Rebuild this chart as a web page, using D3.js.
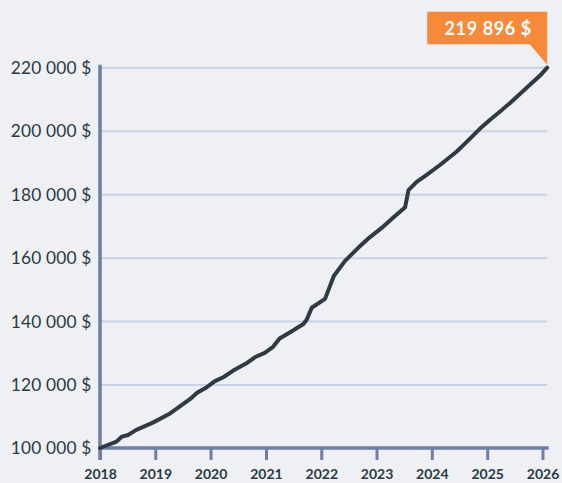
<!DOCTYPE html>
<html>
<head>
<meta charset="utf-8">
<script src="https://cdn.jsdelivr.net/npm/d3@7"></script>
<style>
  html, body { margin: 0; padding: 0; background: #eff0f4; }
  svg { display: block; }
  text { font-family: Lato, "Open Sans", sans-serif; }
</style>
</head>
<body>
<svg id="chart" width="562" height="483"></svg>
<script>
// ---- Data ----
const dates = [
  "2018-01-01","2018-04-20","2018-05-26","2018-07-05","2018-08-29","2018-12-16",
  "2019-04-09","2019-08-18","2019-10-04","2019-12-05",
  "2020-01-30","2020-03-25","2020-05-30","2020-08-25","2020-10-19","2020-12-24",
  "2021-02-17","2021-04-01","2021-06-10","2021-09-05","2021-09-27","2021-10-30",
  "2022-01-26","2022-03-25","2022-06-06","2022-09-02","2022-11-17",
  "2023-02-02","2023-04-20","2023-07-09","2023-07-31","2023-09-23","2023-11-28",
  "2024-02-24","2024-06-12","2024-08-17","2024-11-13",
  "2025-01-18","2025-03-25","2025-05-30","2025-08-03","2025-10-08","2025-12-16",
  "2026-02-01"
];
const values = [
  100000,102000,103600,104100,105700,108000,
  110900,115400,117400,119100,
  121100,122300,124400,126700,128600,130000,
  131900,134500,136500,139100,140400,144200,
  147000,154200,158900,163100,166400,
  169300,172600,175900,181300,183900,186100,
  189200,193400,196400,200600,
  203400,206000,208700,211500,214400,217400,
  219896
];
const yTicks = [100000,120000,140000,160000,180000,200000,220000];
const xTickYears = [2018,2019,2020,2021,2022,2023,2024,2025,2026];
const lastLabel = "219 896 $";

(function () {
const parse = d3.timeParse("%Y-%m-%d");
const data = dates.map((d, i) => ({ date: parse(d), value: values[i] }));

const svg = d3.select("#chart");
const mLeft = 100, mRight = 547.2, mTop = 67.3, mBottom = 448;

const x = d3.scaleTime()
  .domain([parse("2018-01-01"), parse("2026-02-01")])
  .range([mLeft, mRight]);
const y = d3.scaleLinear().domain([100000, 220000]).range([mBottom, mTop]);

const fmt = v => d3.format(",")(v).replace(/,/g, " ") + " $";

// gridlines
svg.append("g")
  .attr("transform", `translate(${mLeft},0)`)
  .call(d3.axisLeft(y).tickValues(yTicks.slice(1)).tickSize(-(mRight - mLeft)).tickFormat(""))
  .call(g => g.select(".domain").remove())
  .call(g => g.selectAll("line").attr("stroke", "#c9d3e6").attr("stroke-width", 2));

// y labels
svg.append("g")
  .selectAll("text")
  .data(yTicks)
  .join("text")
  .attr("x", 91.5)
  .attr("y", d => y(d))
  .attr("dy", "0.37em")
  .attr("text-anchor", "end")
  .attr("font-size", 17.3)
  .attr("letter-spacing", 0.2)
  .attr("fill", "#293a46")
  .text(fmt);

// x axis
const xAxis = svg.append("g")
  .attr("transform", `translate(0,${mBottom})`)
  .call(d3.axisBottom(x)
    .tickValues(xTickYears.map(yr => new Date(yr, 0, 1)))
    .tickSize(12).tickPadding(9)
    .tickFormat(d3.timeFormat("%Y")));
xAxis.select(".domain").remove();
xAxis.selectAll("line").attr("stroke", "#6e7fa2").attr("stroke-width", 3);
xAxis.selectAll("text")
  .attr("font-size", 14)
  .attr("font-weight", 700)
  .attr("fill", "#293a46")
  .style("font-family", "Lato, sans-serif");

// axis lines
svg.append("line")
  .attr("x1", mLeft).attr("x2", mRight + 1.5)
  .attr("y1", mBottom).attr("y2", mBottom)
  .attr("stroke", "#6e7fa2").attr("stroke-width", 3.5);
svg.append("line")
  .attr("x1", mLeft).attr("x2", mLeft)
  .attr("y1", mTop - 2.5).attr("y2", mBottom + 12)
  .attr("stroke", "#6e7fa2").attr("stroke-width", 3.5);

// data line
svg.append("path")
  .datum(data)
  .attr("fill", "none")
  .attr("stroke", "#2e3a44")
  .attr("stroke-width", 4)
  .attr("stroke-linejoin", "round")
  .attr("stroke-linecap", "round")
  .attr("d", d3.line().x(d => x(d.date)).y(d => y(d.value)));

// callout
const last = data[data.length - 1];
const px = x(last.date), py = y(last.value);
const boxR = px, boxL = px - 120, boxT = 11.7, boxB = 44.3;
svg.append("path")
  .attr("fill", "#f7893a")
  .attr("d", `M${boxL},${boxT}H${boxR}V${py - 3}L${boxR - 17.5},${boxB}H${boxL}Z`);
svg.append("text")
  .attr("x", (boxL + boxR) / 2 + 1)
  .attr("y", (boxT + boxB) / 2)
  .attr("dy", "0.37em")
  .attr("text-anchor", "middle")
  .attr("font-size", 18)
  .attr("letter-spacing", 0.6)
  .attr("font-weight", 700)
  .attr("fill", "#ffffff")
  .text(lastLabel);
})();
</script>
</body>
</html>
